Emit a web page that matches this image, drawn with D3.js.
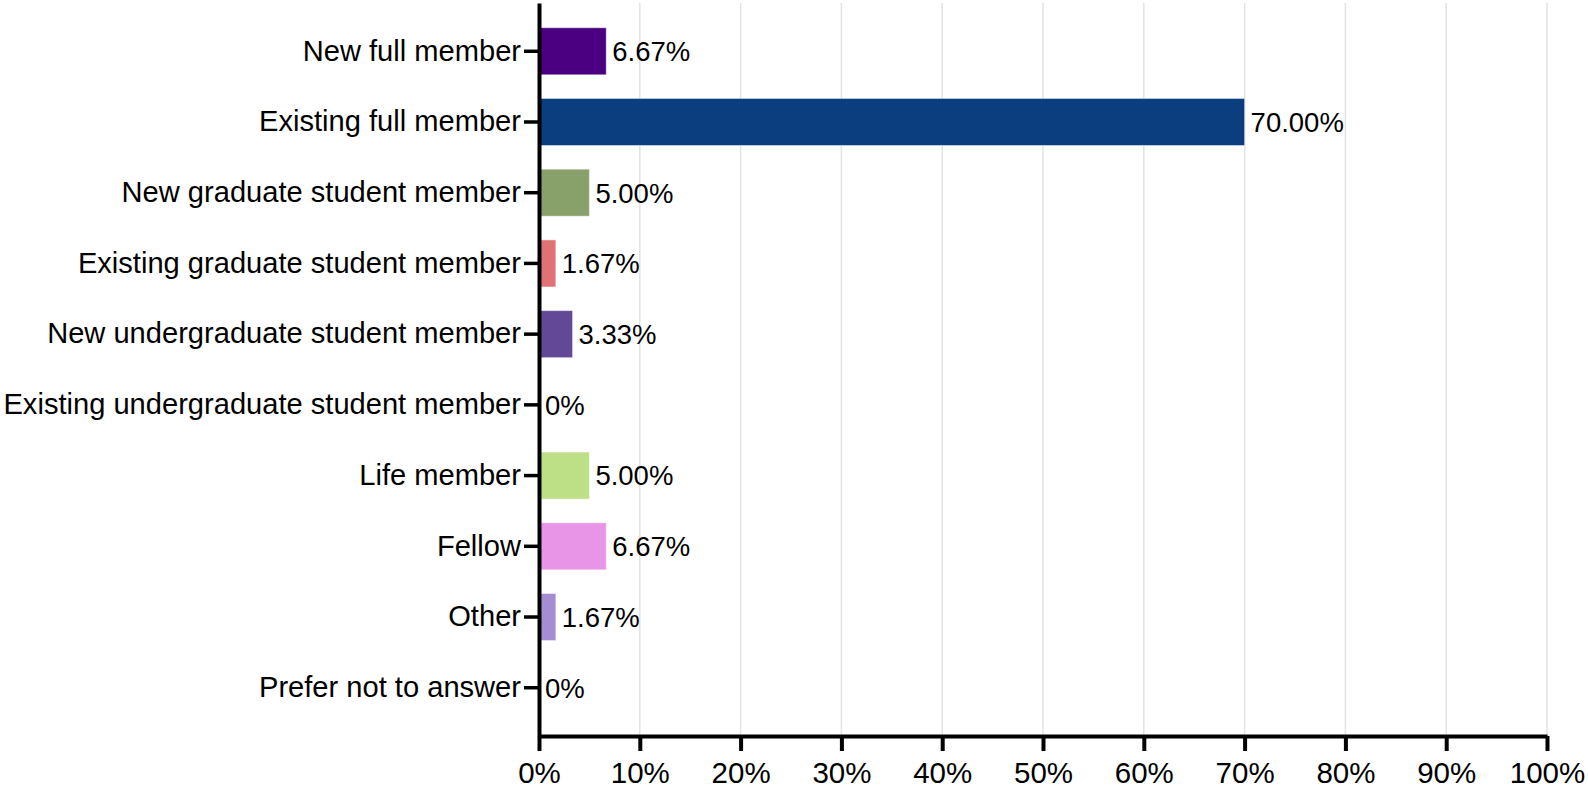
<!DOCTYPE html>
<html>
<head>
<meta charset="utf-8">
<script src="https://cdn.jsdelivr.net/npm/d3@7"></script>
<style>
  body { margin: 0; background: #fff; }
  text { font-family: "Liberation Sans", Arial, sans-serif; fill: #000; }
</style>
</head>
<body>
<div id="chart"></div>
<script>
// categories and values (percent)
const categories = [
    "New full member",
    "Existing full member",
    "New graduate student member",
    "Existing graduate student member",
    "New undergraduate student member",
    "Existing undergraduate student member",
    "Life member",
    "Fellow",
    "Other",
    "Prefer not to answer"
];
const values = [6.67, 70.00, 5.00, 1.67, 3.33, 0, 5.00, 6.67, 1.67, 0];
const barColors = [
    "#4a0080", "#0a3e7f", "#88a16b", "#e07276", "#634897",
    "#8a8a8a", "#bde087", "#e894e7", "#a58cd3", "#999999"
];
const xTicks = [0, 10, 20, 30, 40, 50, 60, 70, 80, 90, 100];

const margin = { top: 3, right: 41, bottom: 57, left: 539 },
    width = 1588 - margin.left - margin.right,
    height = 793 - margin.top - margin.bottom;

const svg = d3.select("#chart")
    .append("svg")
    .attr("width", 1588)
    .attr("height", 793)
    .append("g")
    .attr("transform", "translate(" + margin.left + "," + margin.top + ")");

const x = d3.scaleLinear()
    .domain([0, 100])
    .range([0, width]);

const y = d3.scaleBand()
    .domain(categories)
    .range([0, height])
    .paddingInner(0.335)
    .paddingOuter(0.35);

// gridlines
svg.selectAll(".grid")
    .data(xTicks.filter(d => d > 0))
    .enter()
    .append("line")
    .attr("class", "grid")
    .attr("x1", d => x(d))
    .attr("x2", d => x(d))
    .attr("y1", 0)
    .attr("y2", height)
    .attr("stroke", "#e3e3e3")
    .attr("stroke-width", 1.5);

// bars
svg.selectAll(".bar")
    .data(categories)
    .enter()
    .append("rect")
    .attr("class", "bar")
    .attr("x", x(0))
    .attr("y", d => y(d))
    .attr("width", (d, i) => x(values[i]) - x(0))
    .attr("height", y.bandwidth())
    .attr("fill", (d, i) => barColors[i])
    .attr("stroke", "rgba(255,255,255,0.45)")
    .attr("stroke-width", 1);

// value labels
svg.selectAll(".val")
    .data(categories)
    .enter()
    .append("text")
    .attr("class", "val")
    .attr("x", (d, i) => x(values[i]) + 6)
    .attr("y", d => y(d) + y.bandwidth() / 2)
    .attr("dy", "0.36em")
    .style("font-size", "27.5px")
    .text((d, i) => values[i] === 0 ? "0%" : values[i].toFixed(2) + "%");

// x axis
const xAxis = svg.append("g")
    .attr("transform", "translate(0," + height + ")")
    .call(d3.axisBottom(x)
        .tickValues(xTicks)
        .tickSize(15)
        .tickSizeOuter(0)
        .tickPadding(11)
        .tickFormat(d => d + "%"));
xAxis.select(".domain").attr("stroke", "#000").attr("stroke-width", 4);
xAxis.selectAll(".tick line").attr("stroke", "#000").attr("stroke-width", 4);
xAxis.selectAll(".tick text")
    .style("font-size", "29.5px")
    .style("font-family", "Liberation Sans, Arial, sans-serif")
    .attr("fill", "#000");

// y axis
const yAxis = svg.append("g")
    .call(d3.axisLeft(y)
        .tickSize(15)
        .tickSizeOuter(0)
        .tickPadding(3));
yAxis.select(".domain").attr("stroke", "#000").attr("stroke-width", 4);
yAxis.selectAll(".tick line").attr("stroke", "#000").attr("stroke-width", 3.5);
yAxis.selectAll(".tick text")
    .style("font-size", "29.1px")
    .style("font-family", "Liberation Sans, Arial, sans-serif")
    .attr("fill", "#000");
</script>
</body>
</html>
